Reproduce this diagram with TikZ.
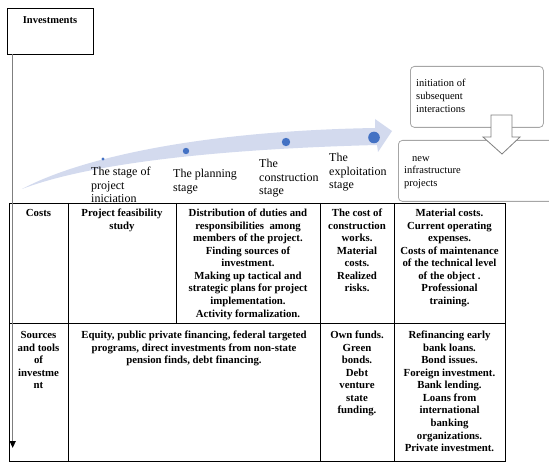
\documentclass[tikz,border=0pt]{standalone}
\usepackage{fontspec}
\setmainfont{Liberation Serif}
\usetikzlibrary{arrows.meta}
\definecolor{bandcol}{HTML}{D3DAEE}
\definecolor{dotblue}{HTML}{4472C4}
\definecolor{boxgray}{HTML}{A6A6A6}
\definecolor{linegray}{HTML}{7F7F7F}
\begin{document}
\begin{tikzpicture}[x=1pt,y=-1pt,
  cell/.style={align=center,font=\fontsize{10.8}{12.55}\selectfont\bfseries,inner sep=0pt,anchor=north},
  stagelbl/.style={align=left,font=\fontsize{12}{13.6}\selectfont,inner sep=0pt,anchor=north west},
  smalltxt/.style={align=left,font=\fontsize{10.5}{12.7}\selectfont,inner sep=0pt,anchor=north west},
  rbox/.style={draw=boxgray,line width=0.8pt,rounded corners=4pt,anchor=north west,inner sep=0pt},
  tline/.style={line width=0.8pt,black},
  stagedot/.style={fill=dotblue}]
\clip (0,0) rectangle (549,462);
\useasboundingbox (0,0) rectangle (549,462);

% Investments box
\node[draw=black,line width=0.8pt,anchor=north west,minimum width=86pt,minimum height=46pt,inner sep=0pt] (inv) at (7,8) {};
\node[inner sep=0pt,anchor=base,font=\fontsize{10.5}{12}\selectfont\bfseries] (invt) at (50,23.5) {Investments};

% curved band arrow
\fill[bandcol] (22,189) .. controls (80,158) and (200,131) .. (375,128)
  -- (375,119) -- (392,131) -- (378,152) -- (377,145)
  .. controls (220,149) and (90,163) .. cycle;

% dots
\fill[stagedot] (103,159) circle (1.6);
\fill[stagedot] (186,151) circle (3.2);
\fill[stagedot] (286,142) circle (4.2);
\fill[stagedot] (374,137.5) circle (5.8);

% stage labels (node y = first baseline - 9.52)
\node[stagelbl] (s1) at (91,166) {\strut The stage of\\project\\iniciation};
\node[stagelbl] (s2) at (173,168) {\strut The planning\\stage};
\node[stagelbl] (s3) at (259,158) {\strut The\\construction\\stage};
\node[stagelbl] (s4) at (329,152) {\strut The\\exploitation\\stage};

% right boxes
\node[rbox,minimum width=133pt,minimum height=61pt] (b1) at (410,66) {};
\node[smalltxt] (b1t) at (416,77.6) {\strut initiation of\\subsequent\\interactions};
\node[rbox,minimum width=165pt,minimum height=61pt] (b2) at (398,140) {};
\node[smalltxt] (b2t) at (404,152.1) {\strut\hspace*{8pt}new\\infrastructure\\projects};

% hollow down arrow
\draw[linegray,line width=0.8pt,fill=white,line join=miter]
  (491,115) -- (512,115) -- (512,137) -- (520,137) -- (502,154) -- (483,137) -- (491,137) -- cycle;

% table
\draw[tline] (9,203) rectangle (505,461);
\draw[tline] (9,323) -- (505,323);
\draw[tline] (68,203) -- (68,461);
\draw[tline] (176,203) -- (176,323);
\draw[tline] (320,203) -- (320,461);
\draw[tline] (394,203) -- (394,461);

% row 1 (node y = first baseline - 8.785)
\node[cell] (c11) at (38.5,207.7) {\strut Costs};
\node[cell] (c12) at (122,207.7) {\strut Project feasibility\\study};
\node[cell] (c13) at (248,207.7) {\strut Distribution of duties and\\responsibilities\ \ among\\members of the project.\\Finding sources of\\investment.\\Making up tactical and\\strategic plans for project\\implementation.\\Activity formalization.};
\node[cell] (c14) at (357,207.7) {\strut The cost of\\construction\\works.\\Material\\costs.\\Realized\\risks.};
\node[cell] (c15) at (449.5,207.7) {\strut Material costs.\\Current operating\\expenses.\\Costs of maintenance\\of the technical level\\of the object .\\Professional\\training.};

% row 2
\node[cell] (c21) at (38.5,329.7) {\strut Sources\\and tools\\of\\investme\\nt};
\node[cell] (c22) at (194,329.7) {\strut Equity, public private financing, federal targeted\\programs, direct investments from non-state\\pension finds, debt financing.};
\node[cell] (c24) at (357,329.7) {\strut Own funds.\\Green\\bonds.\\Debt\\venture\\state\\funding.};
\node[cell] (c25) at (449.5,329.7) {\strut Refinancing early\\bank loans.\\Bond issues.\\Foreign investment.\\Bank lending.\\Loans from\\international\\banking\\organizations.\\Private investment.};

% vertical arrow from Investments
\coordinate (vtop) at (12.7,54);
\coordinate (vend) at (12.7,448);
\draw[linegray,line width=1.4pt,-{Triangle[width=6pt,length=7pt,color=black]}] (vtop) -- (vend);
\end{tikzpicture}
\end{document}
